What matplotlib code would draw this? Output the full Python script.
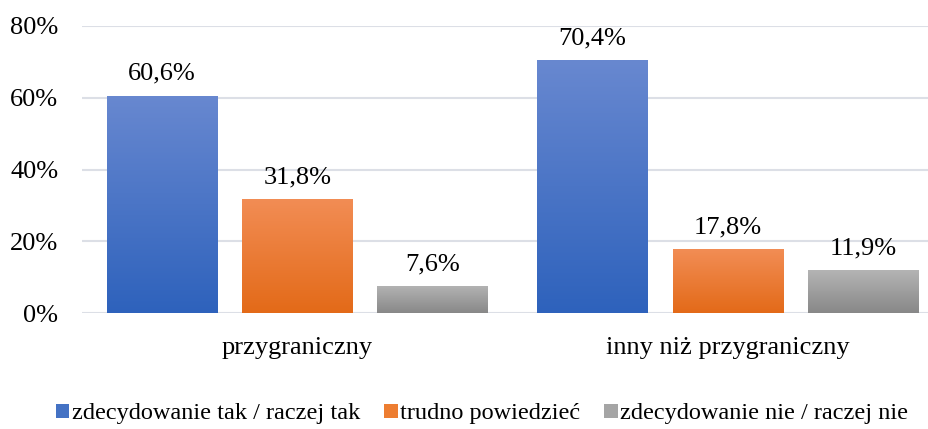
import numpy as np
import matplotlib.pyplot as plt
from matplotlib.patches import Patch
from matplotlib.colors import LinearSegmentedColormap

plt.rcParams['font.family'] = ['Liberation Serif', 'DejaVu Serif']

categories = ['przygraniczny', 'inny niż przygraniczny']
series = ['zdecydowanie tak / raczej tak', 'trudno powiedzieć', 'zdecydowanie nie / raczej nie']
values = [
    [60.6, 70.4],
    [31.8, 17.8],
    [7.6, 11.9],
]
labels = [['60,6%', '70,4%'], ['31,8%', '17,8%'], ['7,6%', '11,9%']]
# (top colour, bottom colour) for the gradient fill
grads = [('#6888d0', '#2e62bc'), ('#f28d55', '#e36a18'), ('#b4b4b4', '#888888')]
solid = ['#4472c4', '#ed7d31', '#a5a5a5']

fig = plt.figure(figsize=(9.29, 4.29), dpi=100)
ax = fig.add_axes([82 / 929, 116 / 429, 861 / 929, 287 / 429])

x = np.arange(len(categories))
width = 0.256
step = 0.314

grad = np.linspace(1, 0, 256).reshape(-1, 1)
for i in range(3):
    bars = ax.bar(x + (i - 1) * step, values[i], width, color='none', zorder=2)
    cmap = LinearSegmentedColormap.from_list('g%d' % i, [grads[i][1], grads[i][0]])
    for b, lab in zip(bars, labels[i]):
        x0, y0 = b.get_x(), b.get_y()
        im = ax.imshow(grad, cmap=cmap, aspect='auto', zorder=2,
                       extent=(x0, x0 + b.get_width(), y0, y0 + b.get_height()))
        im.set_clip_path(b)
        ax.text(x0 + b.get_width() / 2, b.get_height() + 3.0, lab,
                ha='center', va='bottom', fontsize=19)

ax.set_xlim(-0.5, 1.5)
ax.set_ylim(0, 80)
ax.set_yticks([0, 20, 40, 60, 80])
ax.set_yticklabels(['0%', '20%', '40%', '60%', '80%'], fontsize=19)
ax.set_xticks(x)
ax.set_xticklabels(categories, fontsize=19)
ax.tick_params(axis='both', length=0)
ax.tick_params(axis='y', pad=17)
ax.tick_params(axis='x', pad=17)
ax.yaxis.grid(True, color='#dcdfe6', linewidth=1.5)
ax.set_axisbelow(True)
for s in ax.spines.values():
    s.set_visible(False)

handles = [Patch(facecolor=c) for c in solid]
fig.legend(handles, series, loc='center', bbox_to_anchor=(482 / 929, 15 / 429),
           ncol=3, frameon=False, fontsize=17.5, handlelength=0.55, handleheight=0.55,
           handletextpad=0.1, columnspacing=1.0)

fig.savefig('out.png', dpi=100)
